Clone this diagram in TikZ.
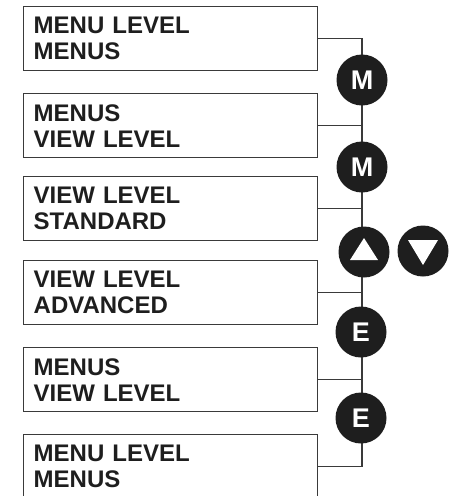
\documentclass[tikz,border=0pt]{standalone}
\usepackage{fontspec}
\setmainfont{Liberation Sans}
\usetikzlibrary{backgrounds}
\definecolor{ink}{HTML}{1E1E1E}
\definecolor{edge}{HTML}{3A3A3A}
\begin{document}
\begin{tikzpicture}[x=1pt,y=-1pt,
  screen/.style={draw=edge,line width=1.4pt,anchor=north west,minimum width=294pt,minimum height=64pt,
    text width=274pt,inner xsep=10pt,align=left,text=ink,
    font=\fontsize{24}{26}\selectfont\bfseries},
  key/.style={circle,fill=ink,minimum size=51pt,inner sep=0pt,text=white,
    font=\fontsize{27}{27}\selectfont\bfseries},
  wire/.style={draw=edge,line width=1.1pt}]
\useasboundingbox (0,0) rectangle (450,496);
\node[screen] (b1) at (23,6) {MENU LEVEL\\MENUS};
\node[screen] (b2) at (23,93) {MENUS\\VIEW LEVEL};
\node[screen] (b3) at (23,176) {VIEW LEVEL\\STANDARD};
\node[screen] (b4) at (23,260) {VIEW LEVEL\\ADVANCED};
\node[screen] (b5) at (23,347) {MENUS\\VIEW LEVEL};
\node[screen] (b6) at (23,434) {MENU LEVEL\\MENUS};
\node[key] (m1) at (362,80) {M};
\node[key] (m2) at (362,167) {M};
\node[key] (up) at (364,252) {};
\node[key] (dn) at (423,251) {};
\node[key] (e1) at (361,332) {E};
\node[key] (e2) at (361,418) {E};
\fill[white] ([shift={(-14,8)}]up.center) -- ([shift={(14,8)}]up.center) -- ([shift={(0,-14)}]up.center) -- cycle;
\fill[white] ([shift={(-15,-11)}]dn.center) -- ([shift={(15,-11)}]dn.center) -- ([shift={(0,14)}]dn.center) -- cycle;
\begin{pgfonlayer}{background}
\draw[wire] (b1.east) -| (m1.center) -- (m1.center |- e2.center) |- (b6.east);
\draw[wire] (b2.east) -- (b2.east -| m1.center);
\draw[wire] (b3.east) -- (b3.east -| m1.center);
\draw[wire] (b4.east) -- (b4.east -| m1.center);
\draw[wire] (b5.east) -- (b5.east -| m1.center);
\end{pgfonlayer}
\end{tikzpicture}
\end{document}
